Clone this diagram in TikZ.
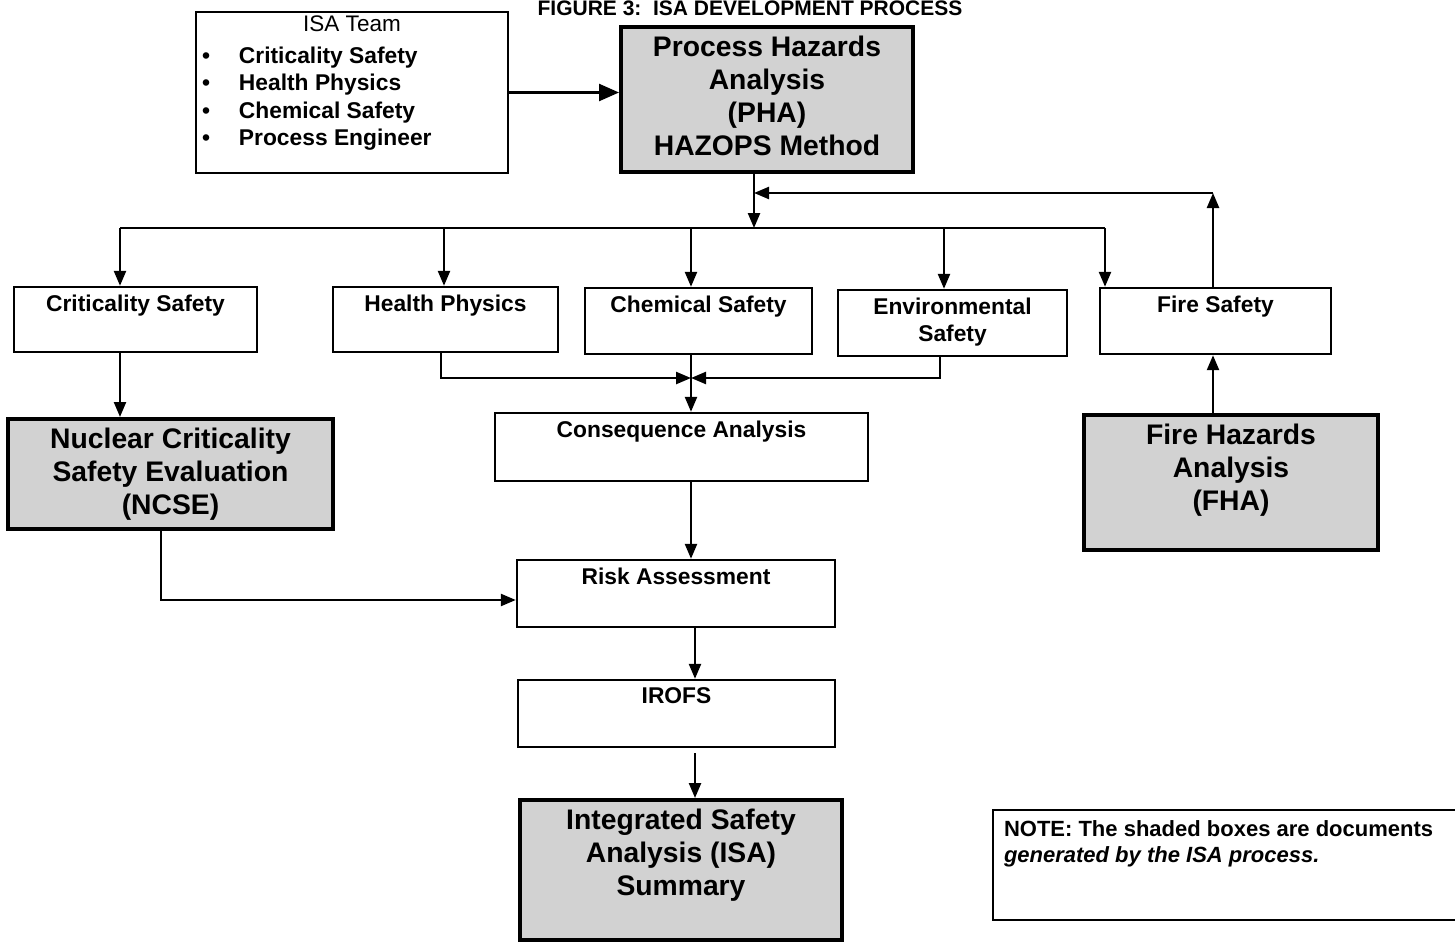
\documentclass[tikz,border=0pt]{standalone}
\usepackage{fontspec}
\setmainfont{Liberation Sans}
\usetikzlibrary{arrows.meta}

\newcommand{\labfont}{\bfseries\fontsize{22.8}{27.3}\selectfont}
\newcommand{\docfont}{\bfseries\fontsize{28.3}{33}\selectfont}

\begin{document}
\begin{tikzpicture}[x=1pt, y=-1pt,
  box/.style 2 args={draw, line width=2.4pt, minimum width=#1, minimum height=#2, inner sep=0pt},
  doc/.style={line width=4pt, fill=gray!35},
  boxtext/.style={label={[font=\labfont, align=center, anchor=north, yshift=-9pt, inner sep=0pt]north:{#1}}},
  doctext/.style={label={[font=\docfont, align=center, anchor=north, yshift=-11pt, inner sep=0pt]north:{#1}}},
  wire/.style={line width=2.4pt},
  arr/.style={wire, -{Triangle[length=15pt, width=12pt]}},
  bigarr/.style={wire, -{Triangle[length=20pt, width=17pt]}}]
\useasboundingbox (0,0) rectangle (1455,942);
\node[font=\bfseries\fontsize{21}{24}\selectfont, anchor=base] (title) at (750,16) {FIGURE 3:\ \ ISA DEVELOPMENT PROCESS};

\node[box={312}{161},
  label={[font=\fontsize{22.5}{26}\selectfont, anchor=north, yshift=-5pt, inner sep=0pt]north:ISA Team},
  label={[font=\labfont, align=left, anchor=north west, xshift=7pt, yshift=-36pt, inner sep=0pt]north west:{%
    \makebox[37pt][l]{\textbullet}Criticality Safety\\
    \makebox[37pt][l]{\textbullet}Health Physics\\
    \makebox[37pt][l]{\textbullet}Chemical Safety\\
    \makebox[37pt][l]{\textbullet}Process Engineer}}] (isa) at (352,92.5) {};
\node[box={292}{145}, doc, doctext={Process Hazards\\Analysis\\(PHA)\\HAZOPS Method}] (pha) at (767,99.5) {};

\node[box={243}{65}, boxtext={Criticality Safety}] (crit) at (135.5,319.5) {};
\node[box={225}{65}, boxtext={Health Physics}] (hp) at (445.5,319.5) {};
\node[box={227}{66}, boxtext={Chemical Safety}] (chem) at (698.5,321) {};
\node[box={229}{66}, boxtext={Environmental\\Safety}] (env) at (952.5,323) {};
\node[box={231}{66}, boxtext={Fire Safety}] (fire) at (1215.5,321) {};

\node[box={325}{110}, doc, doctext={Nuclear Criticality\\Safety Evaluation\\(NCSE)}] (ncse) at (170.5,474) {};
\node[box={373}{68}, boxtext={Consequence Analysis}] (cons) at (681.5,447) {};
\node[box={294}{135}, doc, doctext={Fire Hazards\\Analysis\\(FHA)}] (fha) at (1231,482.5) {};
\node[box={318}{67}, boxtext={Risk Assessment}] (risk) at (676,593.5) {};
\node[box={317}{67}, boxtext={IROFS}] (irofs) at (676.5,713.5) {};
\node[box={322}{140}, doc, doctext={Integrated Safety\\Analysis (ISA)\\Summary}] (isasum) at (681,870) {};

\node[box={467}{110},
  label={[font=\bfseries\fontsize{22}{25.5}\selectfont, align=left, anchor=north west, xshift=12pt, yshift=-12pt, inner sep=0pt]north west:{%
    NOTE: The shaded boxes are documents\\ \textit{generated by the ISA process.}}}] (note) at (1226.5,865) {};

% connectors
\coordinate (bus) at (754,228);
\coordinate (busL) at (120,228);
\coordinate (busR) at (1105,228);
\coordinate (fb) at (1213,193);
\coordinate (mrg) at (691,378);
\coordinate (turn) at (161,600);
\coordinate (low) at (695,760);

\draw[bigarr] (isa.east) -- (pha.west |- isa.east);
\draw[arr] (pha.south -| bus) -- (bus);
\draw[wire] (busL) -- (busR);
\foreach \n/\x in {crit/120, hp/444, chem/691, env/944, fire/1105}
  \draw[arr] (bus -| \x,0) -- (\n.north -| \x,0);
\draw[arr] (fire.north -| fb) -- (fb);
\draw[arr] (fb) -- (fb -| bus);
\draw[arr] (fha.north -| fb) -- (fire.south -| fb);
\draw[arr] (crit.south -| busL) -- (ncse.north -| busL);
\draw[arr] (hp.south -| 441,0) |- (mrg);
\draw[arr] (env.south -| 940,0) |- (mrg);
\draw[arr] (chem.south -| mrg) -- (cons.north -| mrg);
\draw[arr] (cons.south -| mrg) -- (risk.north -| mrg);
\draw[arr] (ncse.south -| turn) |- (risk.west |- turn);
\draw[arr] (risk.south -| low) -- (irofs.north -| low);
\draw[arr] ([yshift=-5pt]irofs.south -| low) -- (isasum.north -| low);
\end{tikzpicture}
\end{document}
